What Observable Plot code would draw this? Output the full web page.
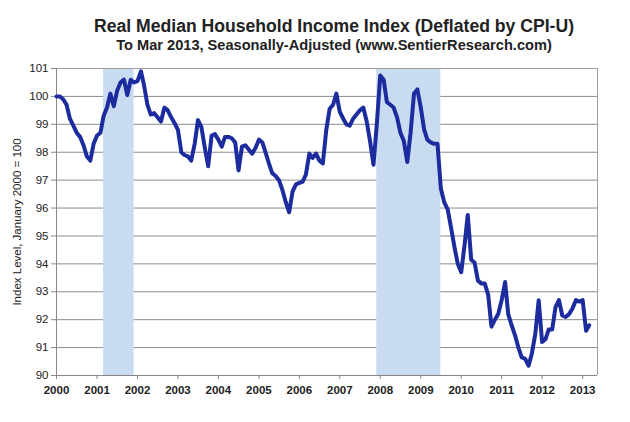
<!DOCTYPE html>
<html>
<head>
<meta charset="utf-8">
<script src="https://cdn.jsdelivr.net/npm/d3@7"></script>
<script src="https://cdn.jsdelivr.net/npm/@observablehq/plot@0.6"></script>
<style>
  html, body { margin: 0; padding: 0; background: #fff; }
  #wrap { position: relative; width: 630px; height: 422px; font-family: Arial, "Liberation Sans", sans-serif; }
  .title { position: absolute; left: 38px; width: 592px; text-align: center; font-weight: bold; color: #222; white-space: nowrap; }
  #t1 { top: 18px; font-size: 17.6px; line-height: 17.6px; }
  #t2 { top: 37.5px; font-size: 14.6px; line-height: 14.6px; }
  #chart { position: absolute; left: 0; top: 55px; }
  #chart svg { font-family: Arial, "Liberation Sans", sans-serif; }
  #chart g[aria-label="y-axis tick label"] text { fill: #222; }
  #chart g[aria-label="x-axis tick label"] text { fill: #222; font-weight: bold; }
  #chart g[aria-label="y-axis label"] text { fill: #222; }
</style>
</head>
<body>
<div id="wrap">
  <div class="title" id="t1">Real Median Household Income Index (Deflated by CPI-U)</div>
  <div class="title" id="t2">To Mar 2013, Seasonally-Adjusted (www.SentierResearch.com)</div>
  <div id="chart"></div>
</div>
<script>
// Monthly index values, Jan 2000 .. Mar 2013
const startMonth = "2000-01";
const values = [
  100.0, 100.0, 99.9, 99.7, 99.2, 98.95, 98.7, 98.55, 98.25, 97.85, 97.7, 98.3,
  98.6, 98.7, 99.3, 99.6, 100.1, 99.65, 100.2, 100.5, 100.6, 100.05, 100.6, 100.5,
  100.55, 100.9, 100.4, 99.7, 99.35, 99.4, 99.25, 99.1, 99.6, 99.5, 99.25, 99.05,
  98.8, 98.0, 97.9, 97.85, 97.7, 98.3, 99.15, 98.9, 98.15, 97.5, 98.6, 98.65,
  98.45, 98.2, 98.55, 98.55, 98.5, 98.35, 97.35, 98.2, 98.25, 98.1, 97.95, 98.15,
  98.45, 98.35, 98.0, 97.6, 97.25, 97.15, 97.0, 96.65, 96.2, 95.85, 96.6, 96.85,
  96.9, 96.95, 97.2, 97.95, 97.8, 97.95, 97.7, 97.6, 98.8, 99.55, 99.7, 100.1,
  99.45, 99.2, 99.0, 98.95, 99.2, 99.35, 99.5, 99.6, 99.1, 98.4, 97.55, 99.0,
  100.75, 100.6, 99.8, 99.7, 99.6, 99.25, 98.7, 98.4, 97.65, 98.7, 100.1, 100.25,
  99.6, 98.8, 98.45, 98.35, 98.3, 98.3, 96.7, 96.2, 95.95, 95.3, 94.6, 94.0,
  93.7, 94.7, 95.75, 94.15, 94.05, 93.4, 93.3, 93.3, 92.9, 91.75, 92.0, 92.2,
  92.7, 93.35, 92.2, 91.8, 91.45, 91.0, 90.65, 90.6, 90.35, 90.8, 91.5, 92.7,
  91.2, 91.3, 91.65, 91.65, 92.45, 92.7, 92.15, 92.1, 92.2, 92.4, 92.7, 92.65,
  92.7, 91.6, 91.8
];
// Recession periods (shaded)
const recessionStarts = ["2001-03-01", "2007-12-01"];
const recessionEnds   = ["2001-12-01", "2009-07-01"];
// Axis ticks
const yearTicks = ["2000","2001","2002","2003","2004","2005","2006","2007","2008","2009","2010","2011","2012","2013"];
const yTicks = [90, 91, 92, 93, 94, 95, 96, 97, 98, 99, 100, 101];
const xDomain = ["2000-01-01", "2013-05-15"];

const parse = d3.utcParse("%Y-%m-%d");
const start = d3.utcParse("%Y-%m")(startMonth);
const data = values.map((v, i) => ({date: d3.utcMonth.offset(start, i), value: v}));
const recessions = recessionStarts.map((s, i) => ({start: parse(s), end: parse(recessionEnds[i])}));
const xTickDates = yearTicks.map(y => d3.utcParse("%Y")(y));
const domain = xDomain.map(parse);

const chart = Plot.plot({
  width: 630,
  height: 367,
  marginLeft: 56,
  marginRight: 33,
  marginTop: 13,
  marginBottom: 47,
  style: {fontSize: "11px", color: "#888", background: "#fff"},
  x: {type: "utc", domain, label: null},
  y: {domain: [90, 101], label: null},
  marks: [
    Plot.gridY(yTicks, {stroke: "#8c8c8c", strokeOpacity: 1, strokeWidth: 1}),
    Plot.rect(recessions, {x1: "start", x2: "end", fill: "#c8dbf0"}),
    Plot.ruleY([101], {stroke: "#a0a0a0"}),
    Plot.ruleX([domain[1]], {stroke: "#a0a0a0"}),
    Plot.ruleX([domain[0]], {stroke: "#888"}),
    Plot.ruleY([90], {stroke: "#888"}),
    Plot.axisY(yTicks, {
      tickSize: 5, tickPadding: 3, fontSize: 11.5,
      label: "Index Level, January 2000 = 100", labelAnchor: "center", labelArrow: "none", labelOffset: 44
    }),
    Plot.axisX(xTickDates, {
      tickSize: 4, tickPadding: 6, tickFormat: d3.utcFormat("%Y"), fontSize: 11.5, label: null
    }),
    Plot.line(data, {x: "date", y: "value", stroke: "#1c2c9e", strokeWidth: 4, strokeLinejoin: "round", strokeLinecap: "round"})
  ]
});
document.getElementById("chart").appendChild(chart);
</script>
</body>
</html>
